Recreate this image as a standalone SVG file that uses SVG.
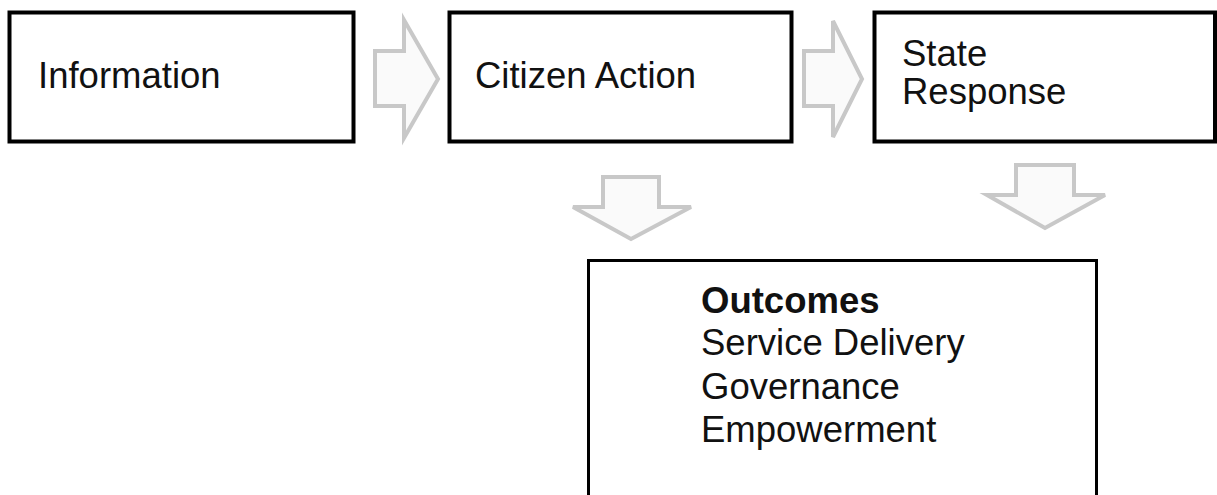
<svg xmlns="http://www.w3.org/2000/svg" width="1217" height="495" viewBox="0 0 1217 495">
  <style>
    .box { fill: #ffffff; stroke: #000000; stroke-width: 4; }
    .box-thin { fill: #ffffff; stroke: #000000; stroke-width: 3; }
    .label { font-family: "Liberation Sans", Arial, sans-serif; font-size: 36.5px; fill: #111111; }
    .bold { font-weight: bold; }
    .block-arrow { fill: #fafafa; stroke: #c8c8c8; stroke-width: 4; stroke-linejoin: miter; }
  </style>
  <rect width="1217" height="495" fill="#ffffff"/>

  <!-- Process steps -->
  <g id="node-information">
    <rect class="box" x="9.5" y="12.5" width="344" height="129"/>
    <text class="label" x="38" y="88">Information</text>
  </g>

  <g id="node-citizen-action">
    <rect class="box" x="449.5" y="12.5" width="342" height="129"/>
    <text class="label" x="475" y="88">Citizen Action</text>
  </g>

  <g id="node-state-response">
    <rect class="box" x="874.5" y="12.5" width="340.5" height="129"/>
    <text class="label" x="902" y="66">State</text>
    <text class="label" x="902" y="104">Response</text>
  </g>

  <g id="node-outcomes">
    <rect class="box-thin" x="588.5" y="260.5" width="508" height="250"/>
    <text class="label bold" x="701" y="313">Outcomes</text>
    <text class="label" x="701" y="355">Service Delivery</text>
    <text class="label" x="701" y="399">Governance</text>
    <text class="label" x="701" y="442">Empowerment</text>
  </g>

  <!-- Block arrows between steps -->
  <g id="connectors">
    <polygon class="block-arrow" points="375,51 404,51 404,20 438,79 404,138 404,106 375,106"/>
    <polygon class="block-arrow" points="804,51 833,51 833,21 862,79 833,137 833,106 804,106"/>
    <polygon class="block-arrow" points="603,177 659,177 659,207 691,207 631,239 573,207 603,207"/>
    <polygon class="block-arrow" points="1016,165 1074,165 1074,195 1105,195 1045,228 987,195 1016,195"/>
  </g>
</svg>
